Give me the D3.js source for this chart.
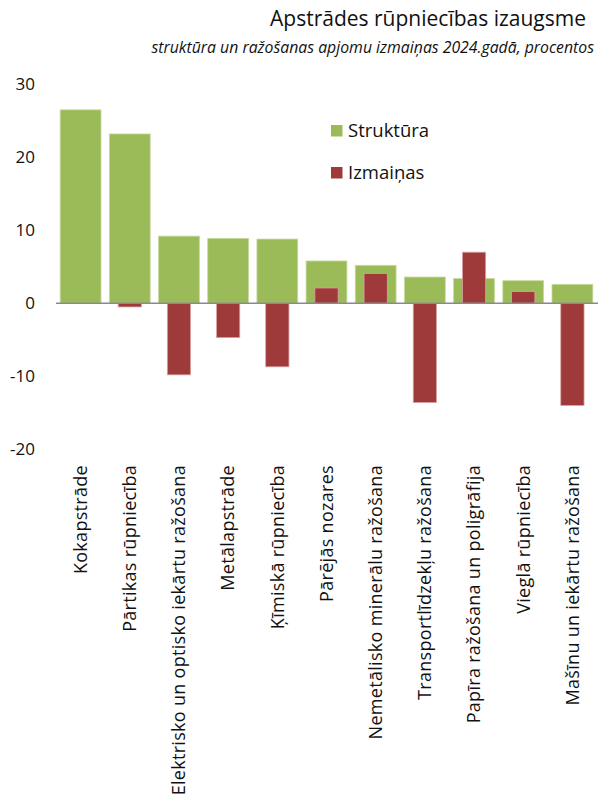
<!DOCTYPE html>
<html>
<head>
<meta charset="utf-8">
<script src="https://cdn.jsdelivr.net/npm/d3@7"></script>
<style>
  html, body { margin: 0; padding: 0; background: #fff; }
  svg { display: block; }
  text { font-family: "Open Sans", sans-serif; fill: #111; }
</style>
</head>
<body>
<div id="chart"></div>
<script>
const categories = [
  "Kokapstrāde",
  "Pārtikas rūpniecība",
  "Elektrisko un optisko iekārtu ražošana",
  "Metālapstrāde",
  "Ķīmiskā rūpniecība",
  "Pārējās nozares",
  "Nemetālisko minerālu ražošana",
  "Transportlīdzekļu ražošana",
  "Papīra ražošana un poligrāfija",
  "Vieglā rūpniecība",
  "Mašīnu un iekārtu ražošana"
];
const struktura = [26.5, 23.2, 9.2, 8.9, 8.8, 5.8, 5.2, 3.6, 3.4, 3.1, 2.6];
const izmainas  = [null, -0.5, -9.8, -4.7, -8.7, 2.1, 4.1, -13.6, 7.0, 1.6, -14.0];
const yTicks = [30, 20, 10, 0, -10, -20];
const seriesNames = ["Struktūra", "Izmaiņas"];
const titleText = "Apstrādes rūpniecības izaugsme";
const subtitleText = "struktūra un ražošanas apjomu izmaiņas 2024.gadā, procentos";

const W = 598, H = 805;
const green = "#9bbb59", red = "#9f3a3a";

const svg = d3.select("#chart").append("svg").attr("width", W).attr("height", H);

const x = d3.scaleBand().domain(categories).range([56, 597]).paddingInner(0.17).paddingOuter(0.085);
const y = d3.scaleLinear().domain([-20, 30]).range([449.3, 84.3]);

// Title
svg.append("text").attr("x", 586).attr("y", 26).attr("text-anchor", "end")
  .style("font-size", "21px").text(titleText);
svg.append("text").attr("x", 594).attr("y", 53).attr("text-anchor", "end")
  .style("font-size", "15.8px").style("font-style", "italic").text(subtitleText);

// Y tick labels
const yAxis = d3.axisLeft(y).tickValues(yTicks).tickSize(0).tickPadding(0)
  .tickFormat(d => String(d));
const gy = svg.append("g").attr("transform", "translate(35,0)").call(yAxis);
gy.select(".domain").remove();
gy.selectAll("text").style("font-size", "17px").style("font-family", "\"Open Sans\", sans-serif").attr("fill", "#111");

// Green bars
svg.append("g").selectAll("rect").data(categories).join("rect")
  .attr("x", d => x(d))
  .attr("width", x.bandwidth())
  .attr("y", (d, i) => y(Math.max(0, struktura[i])))
  .attr("height", (d, i) => Math.abs(y(struktura[i]) - y(0)))
  .attr("fill", green)
  .attr("stroke", "#c6da9e").attr("stroke-width", 0.8);

// Red bars
const redW = x.bandwidth() * 0.57;
svg.append("g").selectAll("rect").data(categories.map((c, i) => ({c, v: izmainas[i]})).filter(d => d.v !== null)).join("rect")
  .attr("x", d => x(d.c) + (x.bandwidth() - redW) / 2)
  .attr("width", redW)
  .attr("y", d => y(Math.max(0, d.v)))
  .attr("height", d => Math.abs(y(d.v) - y(0)))
  .attr("fill", red)
  .attr("stroke", "#d8a3a3").attr("stroke-width", 0.8);

// Zero line
svg.append("line").attr("x1", 56).attr("x2", 598).attr("y1", y(0)).attr("y2", y(0))
  .attr("stroke", "#8a8a8a").attr("stroke-width", 1.5);

// Category labels
const xAxis = d3.axisBottom(x).tickSize(0).tickPadding(0);
const gx = svg.append("g").attr("transform", "translate(0,465)").call(xAxis);
gx.select(".domain").remove();
gx.selectAll("text")
  .attr("transform", "rotate(-90)")
  .attr("text-anchor", "end")
  .attr("x", 0).attr("y", 0).attr("dy", "0.35em")
  .style("font-size", "18px").style("letter-spacing", "0.3px")
  .style("font-family", "\"Open Sans\", sans-serif").attr("fill", "#111");

// Legend
const legend = svg.append("g");
[[green, 125, 137], [red, 167, 179]].forEach((p, i) => {
  legend.append("rect").attr("x", 331).attr("y", p[1]).attr("width", 11.5).attr("height", 11.5).attr("fill", p[0]);
  legend.append("text").attr("x", 348).attr("y", p[2]).style("font-size", "18.5px").text(seriesNames[i]);
});
</script>
</body>
</html>
